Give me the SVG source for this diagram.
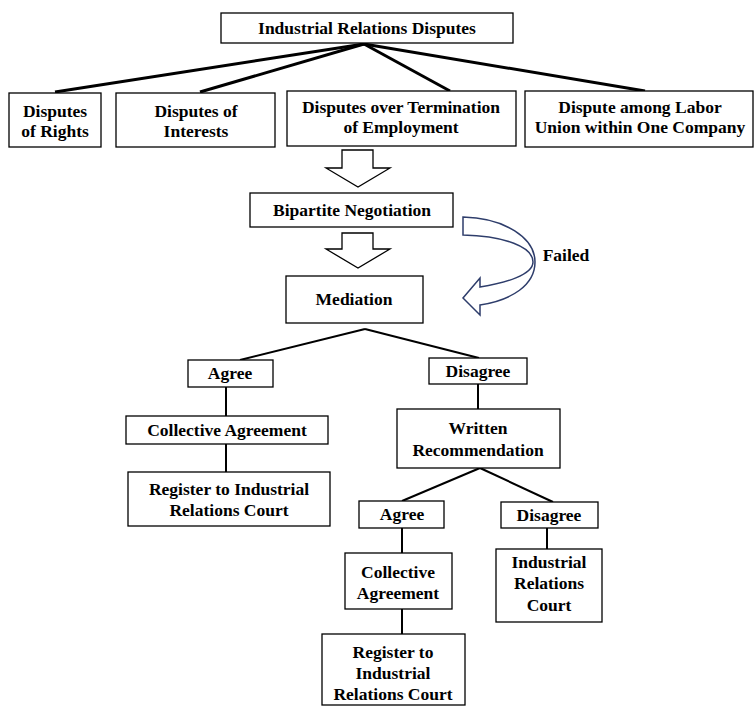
<svg xmlns="http://www.w3.org/2000/svg" width="755" height="706" viewBox="0 0 755 706">
<style>
.box{fill:#fff;stroke:#000;stroke-width:1.3}
text{font-family:"Liberation Serif",Tinos,"Times New Roman",Times,serif}
.t{font-weight:bold;font-size:17.5px;text-anchor:middle;fill:#000}
.c{stroke:#000;fill:none}
.thick{stroke-width:3}
.mid{stroke-width:2}
.hol{fill:#fff;stroke:#000;stroke-width:1.3}
</style>
<rect width="755" height="706" fill="#fff"/>
<g id="connectors">
<line class="c thick" x1="364" y1="44" x2="55" y2="92"/>
<line class="c thick" x1="364" y1="44" x2="200" y2="92"/>
<line class="c thick" x1="364" y1="44" x2="450" y2="91"/>
<line class="c thick" x1="364" y1="44" x2="645" y2="91"/>
<polygon class="hol" points="342,150 373,150 373,168 390,168 358,187 326,168 342,168"/>
<polygon class="hol" points="342,233 373,233 373,249 390,249 358,268 326,249 342,249"/>
<path d="M463,217 C505,218 535,238 535,262 C535,285 512,300 480,305 L480,315 L463,298 L480,278 L480,287 C505,283 533,275 533,262 C533,247 505,236 463,235 Z" fill="#fff" stroke="#2e3d6b" stroke-width="1.5"/>
<line class="c mid" x1="365" y1="329" x2="240" y2="360"/>
<line class="c mid" x1="365" y1="329" x2="479" y2="358"/>
<line class="c mid" x1="226" y1="387" x2="226" y2="416"/>
<line class="c mid" x1="226" y1="444" x2="226" y2="472"/>
<line class="c mid" x1="478" y1="384" x2="478" y2="409"/>
<line class="c mid" x1="480" y1="468" x2="402" y2="501"/>
<line class="c mid" x1="480" y1="468" x2="553" y2="502"/>
<line class="c mid" x1="402" y1="528" x2="402" y2="553"/>
<line class="c mid" x1="402" y1="609" x2="402" y2="634"/>
<line class="c mid" x1="547" y1="528" x2="547" y2="549"/>
</g>
<text class="t" x="566" y="261" font-family="Liberation Serif">Failed</text>
<g id="root"><rect class="box" x="221" y="13" width="292" height="30"/><text class="t" x="367" y="34">Industrial Relations Disputes</text></g>
<g id="rights"><rect class="box" x="9" y="93" width="92" height="54"/><text class="t" x="55" y="117">Disputes</text><text class="t" x="55" y="137">of Rights</text></g>
<g id="interests"><rect class="box" x="116" y="93" width="159" height="54"/><text class="t" x="196" y="117">Disputes of</text><text class="t" x="196" y="137">Interests</text></g>
<g id="termination"><rect class="box" x="287" y="91" width="229" height="55"/><text class="t" x="401" y="113">Disputes over Termination</text><text class="t" x="401" y="133">of Employment</text></g>
<g id="union"><rect class="box" x="525" y="91" width="228" height="56"/><text class="t" x="640" y="113">Dispute among Labor</text><text class="t" x="640" y="133">Union within One Company</text></g>
<g id="bipartite"><rect class="box" x="250" y="193" width="203" height="34"/><text class="t" x="352" y="216">Bipartite Negotiation</text></g>
<g id="mediation"><rect class="box" x="286" y="276" width="137" height="47"/><text class="t" x="354" y="305">Mediation</text></g>
<g id="agree1"><rect class="box" x="188" y="360" width="85" height="27"/><text class="t" x="230" y="379">Agree</text></g>
<g id="disagree1"><rect class="box" x="429" y="358" width="98" height="26"/><text class="t" x="478" y="377">Disagree</text></g>
<g id="collective1"><rect class="box" x="126" y="416" width="202" height="28"/><text class="t" x="227" y="436">Collective Agreement</text></g>
<g id="register1"><rect class="box" x="128" y="472" width="202" height="54"/><text class="t" x="229" y="495">Register to Industrial</text><text class="t" x="229" y="516">Relations Court</text></g>
<g id="written"><rect class="box" x="397" y="409" width="163" height="59"/><text class="t" x="478" y="434">Written</text><text class="t" x="478" y="456">Recommendation</text></g>
<g id="agree2"><rect class="box" x="359" y="501" width="85" height="27"/><text class="t" x="402" y="520">Agree</text></g>
<g id="disagree2"><rect class="box" x="501" y="502" width="97" height="26"/><text class="t" x="549" y="521">Disagree</text></g>
<g id="collective2"><rect class="box" x="345" y="553" width="107" height="56"/><text class="t" x="398" y="578">Collective</text><text class="t" x="398" y="599">Agreement</text></g>
<g id="court"><rect class="box" x="496" y="549" width="106" height="73"/><text class="t" x="549" y="568">Industrial</text><text class="t" x="549" y="589">Relations</text><text class="t" x="549" y="611">Court</text></g>
<g id="register2"><rect class="box" x="322" y="634" width="143" height="71"/><text class="t" x="393" y="658">Register to</text><text class="t" x="393" y="679">Industrial</text><text class="t" x="393" y="700">Relations Court</text></g>
</svg>
